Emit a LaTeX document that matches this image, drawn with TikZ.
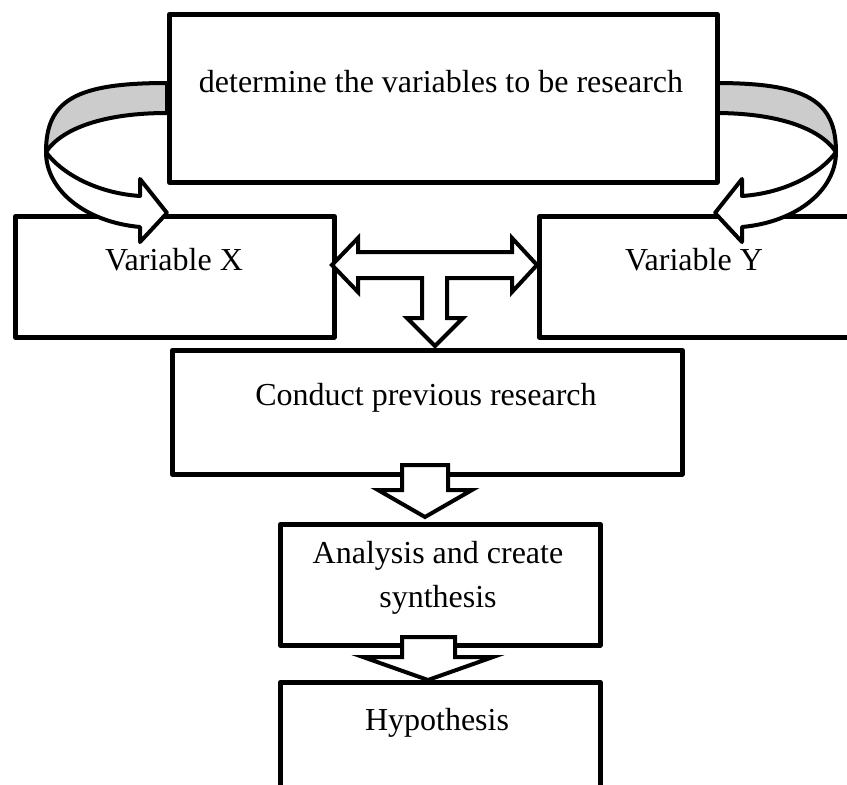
\documentclass[tikz,border=0pt]{standalone}
\usepackage{fontspec}
\setmainfont{Liberation Serif}
\begin{document}
\begin{tikzpicture}[x=1pt,y=-1pt,line join=round,
  box/.style={draw,line width=4.5pt,fill=white,rectangle,inner sep=0pt,anchor=north west},
  blk/.style={draw,line width=4pt,fill=white,line join=miter},
  band/.style={draw,line width=4pt,fill=black!20},
  curv/.style={draw,line width=4pt,fill=white},
  lbl/.style={font=\fontsize{32}{44}\selectfont,anchor=base,inner sep=0pt,align=center}]
\useasboundingbox (0,0) rectangle (847,785);
\clip (0,0) rectangle (847,785);
% grey bands of the curved arrows
\path[band] (167,83) .. controls (76,83) and (46,100) .. (46,152)
  .. controls (62,128) and (105,113) .. (167,113) -- cycle;
\begin{scope}[xshift=882pt,xscale=-1]
\path[band] (167,83) .. controls (76,83) and (46,100) .. (46,152)
  .. controls (62,128) and (105,113) .. (167,113) -- cycle;
\end{scope}
% boxes
\node[box,minimum width=548pt,minimum height=168pt] (det) at (167,12) {};
\node[box,minimum width=319pt,minimum height=121pt] (vx) at (13,214) {};
\node[box,minimum width=340pt,minimum height=121pt] (vy) at (537,214) {};
% white parts of the curved arrows
\path[curv] (46,152) .. controls (46,190) and (85,222) .. (140,227)
  -- (140,242) -- (167,213) -- (140,179) -- (140,196)
  .. controls (95,193) and (60,172) .. (46,152) -- cycle;
\begin{scope}[xshift=882pt,xscale=-1]
\path[curv] (46,152) .. controls (46,190) and (85,222) .. (140,227)
  -- (140,242) -- (167,213) -- (140,179) -- (140,196)
  .. controls (95,193) and (60,172) .. (46,152) -- cycle;
\end{scope}
\node[box,minimum width=510pt,minimum height=124pt] (cp) at (170,348) {};
% T-shaped double arrow
\path[blk] (332,265) -- (358,238) -- (358,252) -- (512,252) -- (512,238)
  -- (537,265) -- (512,292) -- (512,278) -- (447,278) -- (447,318)
  -- (463,318) -- (435,346) -- (407,318) -- (422,318) -- (422,278)
  -- (358,278) -- (358,292) -- cycle;
\node[box,minimum width=320pt,minimum height=121pt] (an) at (278,522) {};
\path[blk] (402,465) -- (448,465) -- (448,490) -- (472,490) -- (425,517)
  -- (378,490) -- (402,490) -- cycle;
\node[box,minimum width=320pt,minimum height=130pt] (hy) at (278,680) {};
\path[blk] (402,637) -- (455,637) -- (455,657) -- (493,657) -- (428,680)
  -- (363,657) -- (402,657) -- cycle;
% labels
\node[lbl] (tdet) at (441,92) {determine the variables to be research};
\node[lbl] (tvx) at (174,270) {Variable X};
\node[lbl] (tvy) at (694,270) {Variable Y};
\node[lbl] (tcp) at (426,405) {Conduct previous research};
\node[lbl] (tan) at (438,607) {Analysis and create\\synthesis};
\node[lbl] (thy) at (437,730) {Hypothesis};
\end{tikzpicture}
\end{document}
